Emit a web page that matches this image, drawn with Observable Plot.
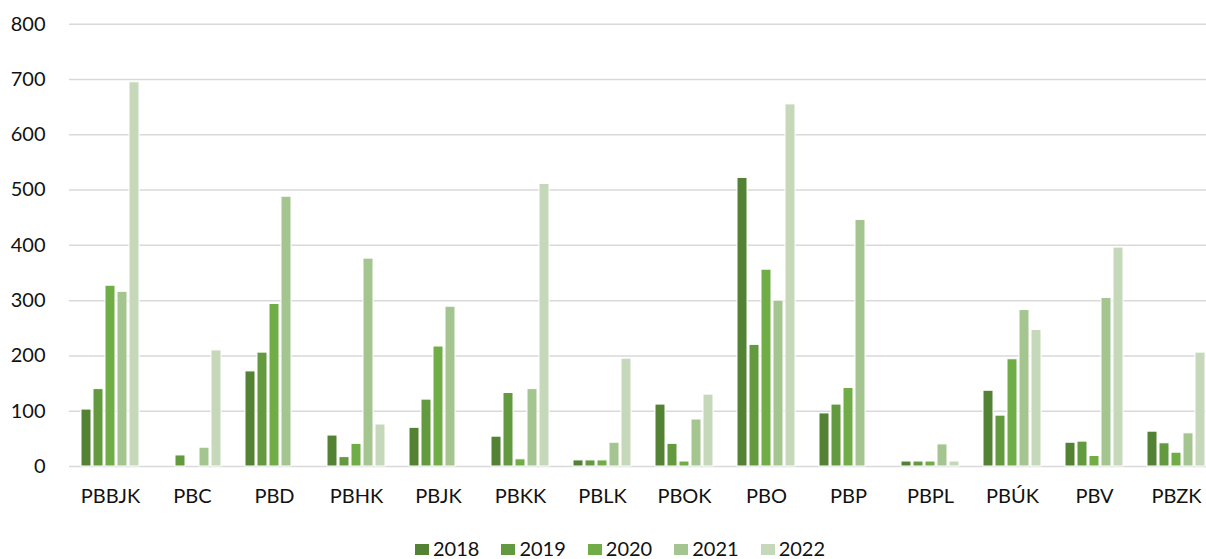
<!DOCTYPE html>
<html>
<head>
<meta charset="utf-8">
<script src="https://cdn.jsdelivr.net/npm/d3@7"></script>
<script src="https://cdn.jsdelivr.net/npm/@observablehq/plot@0.6"></script>
<style>
  html, body { margin: 0; padding: 0; background: #fff; overflow: hidden; }
  #wrap { position: relative; width: 1206px; height: 559px; overflow: hidden; }
  #legend { position: absolute; left: 415px; top: 538px; display: flex; font-family: Lato, sans-serif; font-size: 20px; line-height: 20px; color: #111; }
  .item { display: flex; align-items: center; margin-right: 22px; }
  .sw { width: 14px; height: 11px; margin-right: 4px; margin-top: 2px; }
</style>
</head>
<body>
<div id="wrap"><div id="chart"></div><div id="legend"></div></div>
<script>
const categories = ["PBBJK","PBC","PBD","PBHK","PBJK","PBKK","PBLK","PBOK","PBO","PBP","PBPL","PBÚK","PBV","PBZK"];
const years = ["2018","2019","2020","2021","2022"];
const v2018 = [103, 0, 172, 56, 70, 54, 11, 112, 522, 96, 9, 137, 43, 63];
const v2019 = [140, 20, 206, 17, 121, 133, 11, 41, 220, 112, 9, 92, 45, 42];
const v2020 = [327, 0, 294, 41, 217, 13, 11, 9, 356, 142, 9, 194, 19, 25];
const v2021 = [316, 34, 488, 376, 289, 140, 43, 85, 300, 446, 40, 283, 305, 60];
const v2022 = [695, 210, 0, 76, 0, 511, 195, 130, 655, 0, 9, 247, 396, 206];
const yTicks = [0, 100, 200, 300, 400, 500, 600, 700, 800];
const colors = ["#548235", "#639A3F", "#70AD47", "#A5C590", "#C5D9BA"];

const series = [v2018, v2019, v2020, v2021, v2022];
const rows = categories.flatMap((c, i) => years.map((y, j) => ({cat: c, year: y, value: series[j][i]})));

const chart = Plot.plot({
  width: 1206,
  height: 530,
  marginLeft: 69,
  marginRight: -11,
  marginTop: 23.7,
  marginBottom: 64,
  style: {fontFamily: "Lato, sans-serif", fontSize: "20px", color: "#111", background: "white", overflow: "hidden"},
  facet: {data: rows, x: "cat"},
  fx: {domain: categories, padding: 0, label: null, tickSize: 0, tickPadding: 22},
  x: {domain: years, axis: null, paddingInner: 0.127, paddingOuter: 0.8135},
  y: {domain: [0, 800], ticks: yTicks, tickSize: 0, tickPadding: 24, label: null},
  color: {domain: years, range: colors},
  marks: [
    Plot.ruleY(yTicks, {stroke: "#d9d9d9", strokeWidth: 1.5}),
    Plot.barY(rows, {x: "year", y: "value", fill: "year", stroke: "white", strokeWidth: 1, filter: d => d.value > 0})
  ]
});
document.getElementById("chart").appendChild(chart);

const legend = document.getElementById("legend");
years.forEach((y, j) => {
  const it = document.createElement("div");
  it.className = "item";
  const sw = document.createElement("div");
  sw.className = "sw";
  sw.style.background = colors[j];
  const t = document.createElement("span");
  t.textContent = y;
  it.appendChild(sw);
  it.appendChild(t);
  legend.appendChild(it);
});
</script>
</body>
</html>
